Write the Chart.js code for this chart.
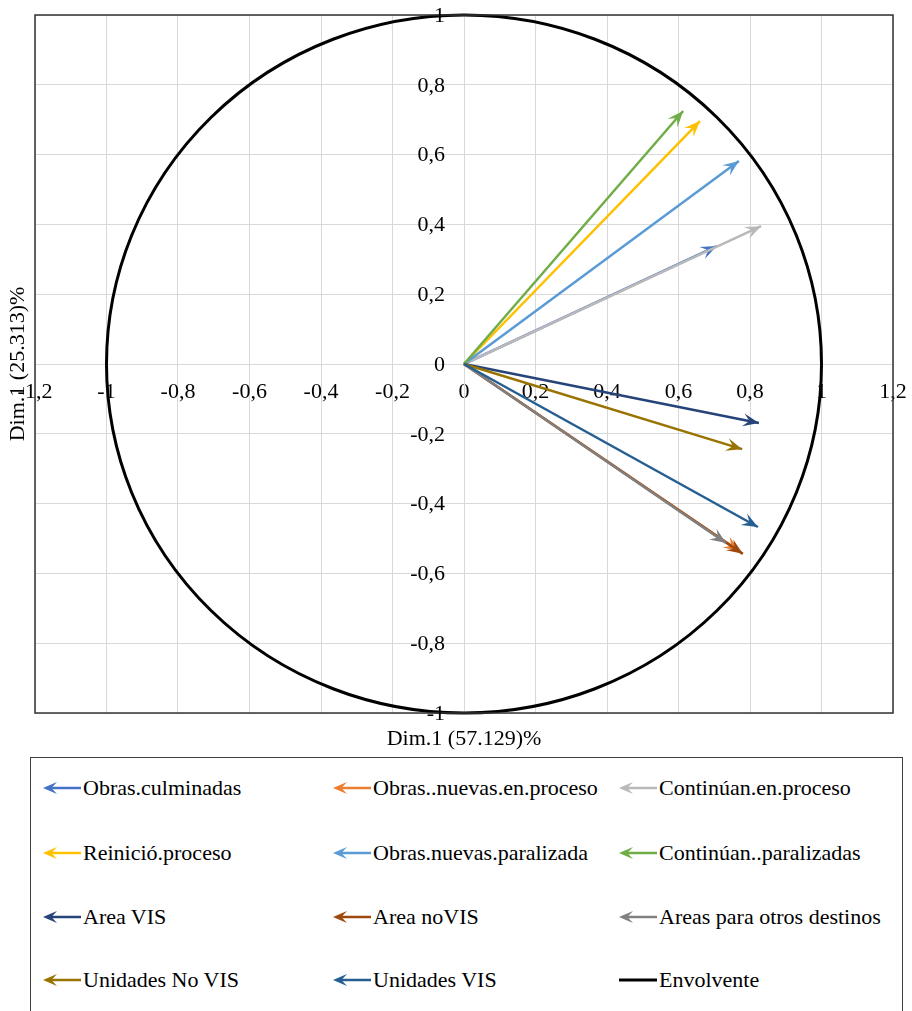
<!DOCTYPE html>
<html>
<head>
<meta charset="utf-8">
<script src="https://cdn.jsdelivr.net/npm/chart.js@4.4.1/dist/chart.umd.min.js"></script>
<style>
  body { margin: 0; background: #fff; font-family: "Liberation Serif", "Times New Roman", serif; }
  #wrap { position: absolute; left: 0; top: 0; width: 912px; height: 755px; }
  #legend { position: absolute; left: 30px; top: 757px; width: 873px; height: 280px;
            border: 1.5px solid #404040; box-sizing: border-box; }
  .item { position: absolute; display: flex; align-items: center; font-size: 22px;
          color: #000; white-space: nowrap; line-height: 1; }
  .item canvas { margin-right: 2px; }
</style>
</head>
<body>
<div id="wrap"><canvas id="chart"></canvas></div>
<div id="legend"></div>
<script>
// variables (coordenadas en Dim.1 / Dim.2)
const variables = [
  'Obras.culminadas', 'Obras..nuevas.en.proceso', 'Continúan.en.proceso',
  'Reinició.proceso', 'Obras.nuevas.paralizada', 'Continúan..paralizadas',
  'Area VIS', 'Area noVIS', 'Areas para otros destinos',
  'Unidades No VIS', 'Unidades VIS'
];
const dim1 = [0.707, 0.770, 0.831, 0.660, 0.769, 0.613, 0.825, 0.780, 0.733, 0.778, 0.822];
const dim2 = [0.338, -0.536, 0.395, 0.696, 0.582, 0.725, -0.169, -0.544, -0.513, -0.244, -0.467];
const colores = [
  '#4472C4', '#ED7D31', '#B9B9B9', '#FFC000', '#5B9BD5', '#70AD47',
  '#264478', '#9E480E', '#808080', '#997300', '#255E91'
];
const envolvente = { label: 'Envolvente', radio: 1, color: '#000000' };

// marcas de los ejes
const xTicks = [-1.2, -1, -0.8, -0.6, -0.4, -0.2, 0, 0.2, 0.4, 0.6, 0.8, 1, 1.2];
const yTicks = [-1, -0.8, -0.6, -0.4, -0.2, 0, 0.2, 0.4, 0.6, 0.8, 1];

const tituloX = 'Dim.1 (57.129)%';
const tituloY = 'Dim.1 (25.313)%';
const fuente = '22px "Liberation Serif"';

// número con coma decimal
function fmt(v) {
  const r = Math.round(v * 10) / 10;
  return String(r).replace('.', ',');
}

// punta de flecha tipo "stealth"
function flecha(ctx, x, y, ang, color, len, half) {
  ctx.save();
  ctx.translate(x, y);
  ctx.rotate(ang);
  ctx.beginPath();
  ctx.moveTo(0, 0);
  ctx.lineTo(-len, -half);
  ctx.lineTo(-len * 0.6, 0);
  ctx.lineTo(-len, half);
  ctx.closePath();
  ctx.fillStyle = color;
  ctx.fill();
  ctx.restore();
}

const datasets = variables.map((name, i) => ({
  label: name,
  data: [{ x: 0, y: 0 }, { x: dim1[i], y: dim2[i] }],
  borderColor: colores[i],
  backgroundColor: colores[i],
  borderWidth: 2.5,
  showLine: true,
  pointRadius: 0,
  order: 100 - i
}));
datasets.push({
  label: envolvente.label,
  data: [],
  borderColor: envolvente.color,
  showLine: true,
  pointRadius: 0,
  order: 0
});

const arrowPlugin = {
  id: 'arrows',
  beforeDraw(chart) {
    const { ctx } = chart;
    ctx.save();
    ctx.fillStyle = '#fff';
    ctx.fillRect(0, 0, chart.width, chart.height);
    ctx.restore();
  },
  afterDatasetDraw(chart, args) {
    const { ctx } = chart;
    const ds = chart.data.datasets[args.index];
    const sx = chart.scales.x, sy = chart.scales.y;
    if (ds.label === envolvente.label) {
      const cx = sx.getPixelForValue(0), cy = sy.getPixelForValue(0);
      const rx = sx.getPixelForValue(envolvente.radio) - cx;
      const ry = cy - sy.getPixelForValue(envolvente.radio);
      ctx.save();
      ctx.beginPath();
      ctx.ellipse(cx, cy, rx, ry, 0, 0, Math.PI * 2);
      ctx.strokeStyle = envolvente.color;
      ctx.lineWidth = 3;
      ctx.stroke();
      ctx.restore();
      return;
    }
    const pts = args.meta.data;
    if (pts.length < 2) return;
    const a = pts[0], b = pts[pts.length - 1];
    const ang = Math.atan2(b.y - a.y, b.x - a.x);
    flecha(ctx, b.x, b.y, ang, ds.borderColor, 16, 6.5);
  },
  afterDraw(chart) {
    const { ctx, chartArea } = chart;
    const sx = chart.scales.x, sy = chart.scales.y;
    ctx.save();
    // marco del área de trazado
    ctx.strokeStyle = '#333333';
    ctx.lineWidth = 1.5;
    ctx.strokeRect(chartArea.left, chartArea.top, chartArea.right - chartArea.left, chartArea.bottom - chartArea.top);
    ctx.fillStyle = '#000';
    ctx.font = fuente;
    // etiquetas del eje vertical (a la izquierda del eje que cruza en 0)
    const ejeX = sx.getPixelForValue(0);
    ctx.textAlign = 'right';
    ctx.textBaseline = 'middle';
    sy.ticks.forEach(t => {
      ctx.fillText(fmt(t.value), ejeX - 19, sy.getPixelForValue(t.value) + 1);
    });
    // títulos de los ejes
    ctx.textAlign = 'center';
    ctx.fillText(tituloX, (chartArea.left + chartArea.right) / 2, chartArea.bottom + 26);
    ctx.translate(18, (chartArea.top + chartArea.bottom) / 2);
    ctx.rotate(-Math.PI / 2);
    ctx.fillText(tituloY, 0, 0);
    ctx.restore();
  }
};

const tickFont = { family: 'Liberation Serif', size: 22 };
const sinRelleno = (s) => { s.paddingTop = 0; s.paddingBottom = 0; s.paddingLeft = 0; s.paddingRight = 0; };

new Chart(document.getElementById('chart'), {
  type: 'scatter',
  data: { datasets },
  options: {
    responsive: true,
    maintainAspectRatio: false,
    animation: false,
    layout: { padding: { left: 35, right: 19, top: 15, bottom: 42 } },
    plugins: { legend: { display: false }, tooltip: { enabled: false } },
    scales: {
      x: {
        type: 'linear',
        position: { y: 0 },
        min: xTicks[0],
        max: xTicks[xTicks.length - 1],
        afterBuildTicks: (s) => { s.ticks = xTicks.map(v => ({ value: v })); },
        afterFit: sinRelleno,
        grid: { color: '#d9d9d9', lineWidth: 1, drawTicks: false },
        border: { color: '#d9d9d9', width: 1 },
        ticks: { font: tickFont, color: '#000', padding: 15, autoSkip: false, maxRotation: 0, callback: fmt }
      },
      y: {
        type: 'linear',
        position: { x: 0 },
        min: yTicks[0],
        max: yTicks[yTicks.length - 1],
        afterBuildTicks: (s) => { s.ticks = yTicks.map(v => ({ value: v })); },
        afterFit: sinRelleno,
        grid: { color: '#d9d9d9', lineWidth: 1, drawTicks: false },
        border: { color: '#d9d9d9', width: 1 },
        ticks: { display: false }
      }
    }
  },
  plugins: [arrowPlugin]
});

// leyenda (3 columnas)
const legendEl = document.getElementById('legend');
const colX = [10, 300, 586];
const rowY = [30, 95, 159, 222];
const items = variables.map((n, i) => ({ label: n, color: colores[i], arrow: true }));
items.push({ label: envolvente.label, color: envolvente.color, arrow: false });
items.forEach((it, i) => {
  const div = document.createElement('div');
  div.className = 'item';
  div.style.left = colX[i % 3] + 'px';
  div.style.top = (rowY[Math.floor(i / 3)] - 11) + 'px';
  const c = document.createElement('canvas');
  c.width = 40; c.height = 22;
  const g = c.getContext('2d');
  g.strokeStyle = it.color;
  g.lineWidth = it.arrow ? 2.5 : 3;
  g.beginPath();
  g.moveTo(it.arrow ? 8 : 2, 11);
  g.lineTo(40, 11);
  g.stroke();
  if (it.arrow) flecha(g, 2, 11, Math.PI, it.color, 14, 6);
  const s = document.createElement('span');
  s.textContent = it.label;
  div.appendChild(c);
  div.appendChild(s);
  legendEl.appendChild(div);
});
</script>
</body>
</html>
